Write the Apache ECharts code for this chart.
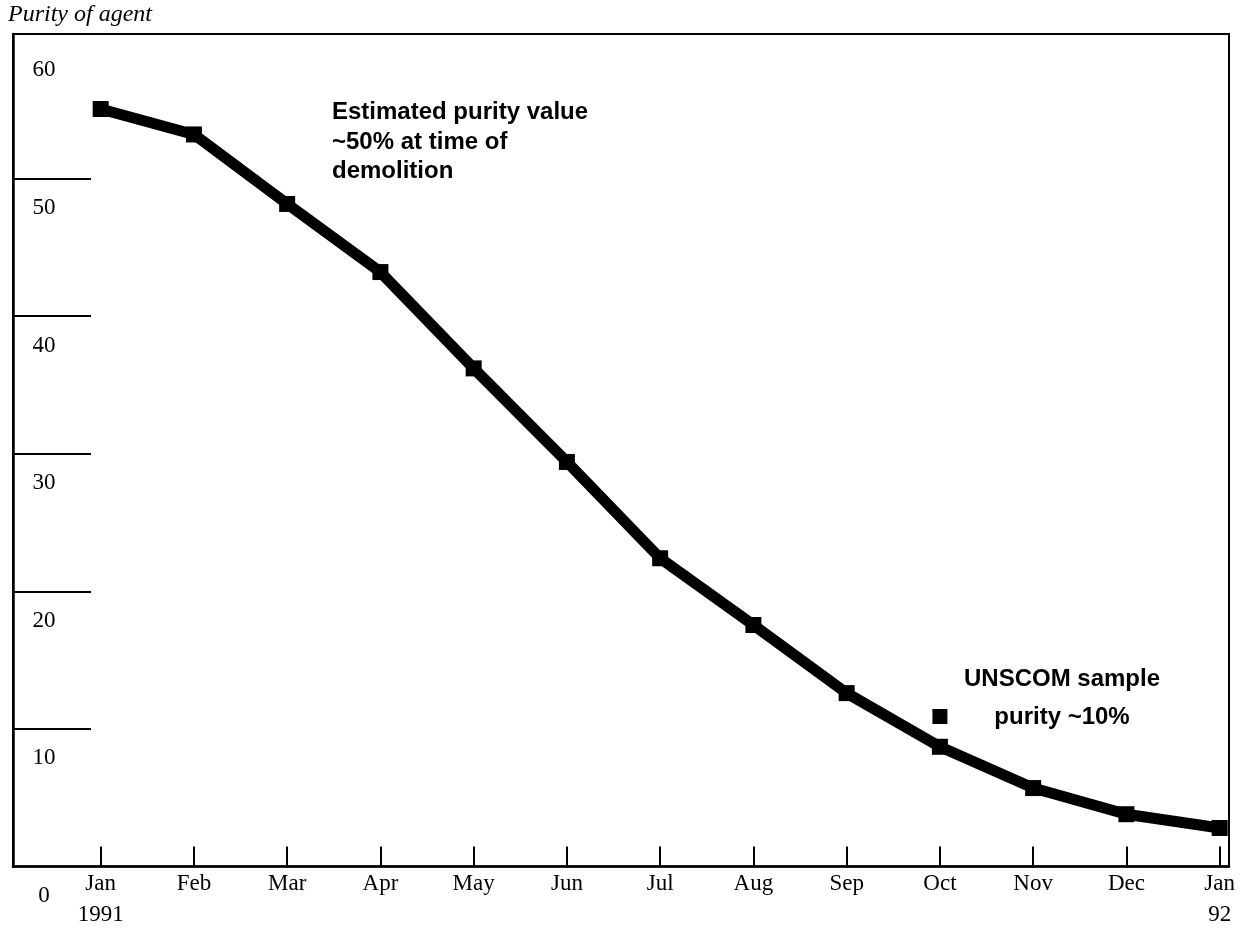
<!DOCTYPE html>
<html>
<head>
<meta charset="utf-8">
<script src="https://cdn.jsdelivr.net/npm/echarts@6/dist/echarts.min.js"></script>
<style>
html,body{margin:0;padding:0;background:#fff;}
#chart{width:1242px;height:931px;}
</style>
</head>
<body>
<div id="chart"></div>
<script>
// Data
const monthLabels = ['Jan\n1991','Feb','Mar','Apr','May','Jun','Jul','Aug','Sep','Oct','Nov','Dec','Jan\n92'];
const monthIndex = [0,1,2,3,4,5,6,7,8,9,10,11,12];
const purity = [55.05, 53.2, 48.15, 43.2, 36.2, 29.4, 22.4, 17.55, 12.6, 8.7, 5.7, 3.8, 2.8];
const sampleMonth = [9];
const samplePurity = [10.9];
const yTickValues = [10, 20, 30, 40, 50];
const yLabelValues = [0, 10, 20, 30, 40, 50, 60];

const chart = echarts.init(document.getElementById('chart'));
const serif = '"Liberation Serif", "DejaVu Serif", serif';
const sans = '"Liberation Sans", Arial, sans-serif';

const lineData = monthIndex.map((m, i) => [m, purity[i]]);
const sampleData = sampleMonth.map((m, i) => [m, samplePurity[i]]);

chart.setOption({
  backgroundColor: '#fff',
  animation: false,
  grid: {
    left: 13, right: 13, top: 34, bottom: 64.5,
    show: true, borderColor: '#000', borderWidth: 2, backgroundColor: 'transparent'
  },
  xAxis: {
    type: 'value',
    min: -0.94, max: 12.1,
    splitLine: { show: false },
    axisLine: { show: true, onZero: false, lineStyle: { color: '#000', width: 2.5 } },
    axisTick: {
      show: true, inside: true, length: 20,
      customValues: monthIndex,
      lineStyle: { color: '#000', width: 2 }
    },
    axisLabel: {
      show: true,
      customValues: monthIndex,
      margin: 2,
      color: '#000',
      fontFamily: serif,
      fontSize: 23,
      lineHeight: 31,
      formatter: (v) => monthLabels[Math.round(v)] || ''
    }
  },
  yAxis: {
    type: 'value',
    min: 0, max: 60.5,
    splitLine: { show: false },
    axisLine: { show: true, onZero: false, lineStyle: { color: '#000', width: 2.5 } },
    axisTick: {
      show: true, inside: true, length: 78,
      customValues: yTickValues,
      lineStyle: { color: '#000', width: 2 }
    },
    axisLabel: {
      show: true,
      inside: true,
      customValues: yLabelValues,
      margin: 31,
      align: 'center',
      verticalAlign: 'top',
      padding: [18, 0, 0, 0],
      color: '#000',
      fontFamily: serif,
      fontSize: 23,
      formatter: (v) => String(v)
    }
  },
  series: [
    {
      type: 'line',
      data: lineData,
      symbol: 'rect',
      symbolSize: 16,
      showSymbol: true,
      lineStyle: { color: '#000', width: 11, join: 'round' },
      itemStyle: { color: '#000', opacity: 1 },
      z: 3
    },
    {
      type: 'scatter',
      data: sampleData,
      symbol: 'rect',
      symbolSize: 15,
      itemStyle: { color: '#000', opacity: 1 },
      z: 4
    }
  ],
  graphic: [
    {
      type: 'text',
      style: {
        x: 8, y: 15,
        text: 'Purity of agent',
        font: 'italic 24px ' + serif,
        fill: '#000',
        verticalAlign: 'middle',
        align: 'left'
      }
    },
    {
      type: 'text',
      style: {
        x: 332, y: 98,
        text: 'Estimated purity value\n~50% at time of\ndemolition',
        font: 'bold 24px ' + sans,
        lineHeight: 29.5,
        fill: '#000',
        align: 'left',
        verticalAlign: 'top'
      }
    },
    {
      type: 'text',
      style: {
        x: 1062, y: 660,
        text: 'UNSCOM sample\npurity ~10%',
        font: 'bold 24px ' + sans,
        lineHeight: 38,
        fill: '#000',
        align: 'center',
        verticalAlign: 'top'
      }
    }
  ]
});
</script>
</body>
</html>
